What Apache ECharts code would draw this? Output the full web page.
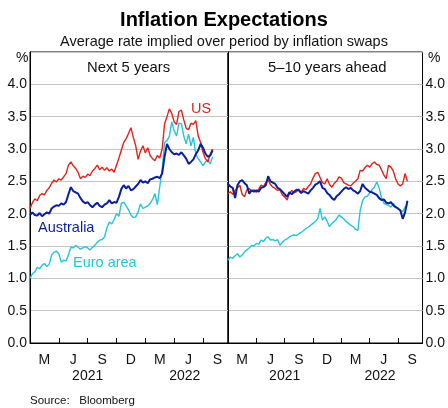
<!DOCTYPE html>
<html>
<head>
<meta charset="utf-8">
<script src="https://cdn.jsdelivr.net/npm/echarts@6/dist/echarts.min.js"></script>
<style>
  html, body { margin: 0; padding: 0; background: #fff; }
  #chart { width: 448px; height: 408px; }
</style>
</head>
<body>
<div id="chart"></div>
<script>
// x = months since 1 Jan 2021, one reading every quarter month (~weekly)
const step = 0.25

// 左：未来5年
const usNext5 = [2.08, 2.17, 2.23, 2.20, 2.28, 2.31, 2.29, 2.36, 2.40, 2.47, 2.52, 2.49, 2.54, 2.52, 2.57, 2.62,
  2.75, 2.80, 2.74, 2.70, 2.64, 2.54, 2.58, 2.56, 2.61, 2.59, 2.66, 2.70, 2.75, 2.68, 2.72, 2.67,
  2.71, 2.66, 2.69, 2.64, 2.75, 2.86, 2.98, 3.10, 3.16, 3.24, 3.33, 3.18, 3.05, 2.84, 2.97, 3.05,
  2.94, 3.02, 2.90, 2.85, 2.82, 2.90, 2.86, 3.00, 3.39, 3.50, 3.62, 3.55, 3.42, 3.38, 3.58, 3.60,
  3.45, 3.32, 3.30, 3.40, 3.38, 3.44, 3.20, 3.10, 2.95, 2.85, 2.80, 2.92, 3.00]
const ausNext5 = [1.98, 2.02, 1.98, 1.97, 2.01, 1.96, 1.99, 2.02, 2.00, 2.08, 2.11, 2.13, 2.12, 2.16, 2.14, 2.18,
  2.30, 2.41, 2.35, 2.33, 2.31, 2.24, 2.19, 2.16, 2.18, 2.13, 2.10, 2.14, 2.17, 2.12, 2.10, 2.14,
  2.16, 2.21, 2.16, 2.18, 2.17, 2.26, 2.38, 2.44, 2.39, 2.43, 2.36, 2.38, 2.42, 2.46, 2.52, 2.48,
  2.50, 2.47, 2.53, 2.54, 2.56, 2.57, 2.55, 2.62, 2.88, 3.08, 3.00, 2.95, 2.92, 2.93, 2.91, 2.95,
  2.90, 2.85, 2.77, 2.80, 2.84, 2.92, 2.98, 3.08, 3.02, 2.93, 2.88, 2.90, 2.98]
const euroNext5 = [1.00, 1.07, 1.10, 1.17, 1.15, 1.20, 1.23, 1.18, 1.22, 1.36, 1.40, 1.42, 1.38, 1.25, 1.28, 1.27,
  1.36, 1.48, 1.47, 1.51, 1.48, 1.45, 1.47, 1.49, 1.47, 1.44, 1.48, 1.51, 1.56, 1.59, 1.60, 1.64,
  1.78, 1.87, 1.84, 1.91, 2.00, 1.96, 2.16, 2.18, 2.12, 2.06, 1.98, 1.94, 1.95, 2.03, 2.15, 2.08,
  2.10, 2.12, 2.16, 2.22, 2.31, 2.14, 2.42, 2.68, 3.10, 3.13, 3.20, 3.42, 3.28, 3.20, 3.40, 3.39,
  3.20, 3.08, 3.23, 3.05, 3.18, 2.92, 2.85, 2.80, 2.74, 2.80, 2.83, 2.77, 2.88]

// 右：5–10年后
const us5to10 = [2.31, 2.34, 2.30, 2.36, 2.40, 2.44, 2.30, 2.26, 2.37, 2.39, 2.35, 2.37, 2.33, 2.38, 2.44, 2.42,
  2.48, 2.52, 2.45, 2.41, 2.39, 2.36, 2.37, 2.29, 2.26, 2.21, 2.31, 2.36, 2.32, 2.34, 2.38, 2.33,
  2.39, 2.37, 2.42, 2.46, 2.55, 2.62, 2.64, 2.56, 2.48, 2.46, 2.54, 2.45, 2.41, 2.47, 2.50, 2.57,
  2.55, 2.48, 2.46, 2.44, 2.43, 2.47, 2.50, 2.54, 2.67, 2.66, 2.71, 2.75, 2.72, 2.77, 2.80, 2.76,
  2.75, 2.68, 2.60, 2.54, 2.75, 2.72, 2.66, 2.54, 2.46, 2.43, 2.46, 2.62, 2.50]
const aus5to10 = [2.46, 2.42, 2.40, 2.24, 2.44, 2.50, 2.52, 2.47, 2.44, 2.31, 2.36, 2.34, 2.36, 2.34, 2.40, 2.41,
  2.44, 2.58, 2.50, 2.48, 2.46, 2.40, 2.38, 2.34, 2.30, 2.26, 2.33, 2.30, 2.34, 2.37, 2.36, 2.32,
  2.35, 2.33, 2.31, 2.36, 2.40, 2.45, 2.47, 2.50, 2.40, 2.38, 2.32, 2.29, 2.24, 2.21, 2.27, 2.30,
  2.34, 2.38, 2.41, 2.38, 2.40, 2.36, 2.34, 2.31, 2.35, 2.46, 2.40, 2.37, 2.34, 2.33, 2.31, 2.29,
  2.24, 2.21, 2.22, 2.17, 2.16, 2.18, 2.13, 2.10, 2.08, 2.05, 1.92, 2.02, 2.20]
const euro5to10 = [1.28, 1.33, 1.31, 1.35, 1.38, 1.33, 1.36, 1.41, 1.44, 1.47, 1.51, 1.50, 1.54, 1.53, 1.59, 1.57,
  1.62, 1.64, 1.59, 1.60, 1.58, 1.60, 1.51, 1.56, 1.59, 1.61, 1.64, 1.66, 1.67, 1.66, 1.69, 1.71,
  1.74, 1.77, 1.79, 1.82, 1.85, 1.88, 1.92, 2.08, 1.90, 1.95, 1.88, 1.80, 1.85, 1.88, 1.92, 1.98,
  1.95, 1.92, 1.88, 1.85, 1.82, 1.80, 1.76, 1.74, 2.05, 2.20, 2.26, 2.27, 2.32, 2.37, 2.41, 2.49,
  2.40, 2.25, 2.16, 2.14, 2.13, 2.10, 2.16, 2.11, 2.08, 2.05, 2.03, 2.10, 2.13]

// 坐标轴标签
const quarterLabels = ['M', 'J', 'S', 'D', 'M', 'J', 'S']
const quarterMid = [1.5, 4.5, 7.5, 10.5, 13.5, 16.5, 19.5]
const quarterEnds = [3, 6, 9, 12, 15, 18]
const yearLabels = ['2021', '2022']
const yearMid = [6, 16.1]
const yTicks = [0, 0.5, 1, 1.5, 2, 2.5, 3, 3.5, 4]

const RED = '#e2231c'
const BLUE = '#0a1f9c'
const CYAN = '#26c6d4'
const FONT = 'Liberation Sans, Arial, sans-serif'

const toPoints = (vals) => vals.map((v, i) => [i * step, v])

const xMain = (grid) => ({
  type: 'value', gridIndex: grid, min: 0, max: 20.6, position: 'bottom',
  axisLine: { show: true, onZero: false, lineStyle: { color: '#000', width: 1 } },
  axisTick: { show: true, inside: true, length: 5, customValues: quarterEnds, lineStyle: { color: '#000' } },
  axisLabel: {
    customValues: quarterMid, margin: 10, color: '#111', fontSize: 14, fontFamily: FONT,
    formatter: (v) => quarterLabels[quarterMid.indexOf(v)]
  },
  splitLine: { show: false }
})
const xYear = (grid) => ({
  type: 'value', gridIndex: grid, min: 0, max: 20.6, position: 'bottom', offset: 16,
  axisLine: { show: false }, axisTick: { show: false },
  axisLabel: {
    customValues: yearMid, margin: 10, color: '#111', fontSize: 14, fontFamily: FONT,
    formatter: (v) => yearLabels[yearMid.indexOf(v)]
  },
  splitLine: { show: false }
})
const yAxis = (grid, pos) => ({
  type: 'value', gridIndex: grid, min: 0, max: 4.5, interval: 0.5, position: pos,
  axisLine: { show: true, lineStyle: { color: '#000' } },
  axisTick: { show: false },
  axisLabel: {
    customValues: yTicks, margin: 3, color: '#111', fontSize: 14, fontFamily: FONT,
    formatter: (v) => v.toFixed(1)
  },
  splitLine: { show: true, lineStyle: { color: '#c4c4c4', width: 1 } }
})

const line = (name, data, color, xIdx, yIdx, width) => ({
  name, type: 'line', data: toPoints(data), xAxisIndex: xIdx, yAxisIndex: yIdx,
  showSymbol: false, symbol: 'none', lineStyle: { color, width }, itemStyle: { color },
  z: 3
})

const txt = (left, top, text, opts) => ({
  type: 'text', left, top,
  style: Object.assign({ text, fontFamily: FONT, fontSize: 14, fill: '#111' }, opts || {})
})

const option = {
  animation: false,
  backgroundColor: '#fff',
  grid: [
    { left: 30, top: 52, width: 198, height: 291, show: true, borderColor: '#000', borderWidth: 1 },
    { left: 228, top: 52, width: 197, height: 291, show: true, borderColor: '#000', borderWidth: 1 }
  ],
  xAxis: [xMain(0), xYear(0), xMain(1), xYear(1)],
  yAxis: [yAxis(0, 'left'), yAxis(1, 'right')],
  series: [
    line('Euro area', euroNext5, CYAN, 0, 0, 1.4),
    line('US', usNext5, RED, 0, 0, 1.4),
    line('Australia', ausNext5, BLUE, 0, 0, 2),
    line('Euro area', euro5to10, CYAN, 2, 1, 1.4),
    line('US', us5to10, RED, 2, 1, 1.4),
    line('Australia', aus5to10, BLUE, 2, 1, 2)
  ],
  graphic: [
    { type: 'text', left: 'center', top: 10, style: { text: 'Inflation Expectations', fontFamily: FONT, fontSize: 20, fontWeight: 'bold', fill: '#000' } },
    { type: 'text', left: 'center', top: 34, style: { text: 'Average rate implied over period by inflation swaps', fontFamily: FONT, fontSize: 14.5, fill: '#111' } },
    txt(16, 51, '%'),
    txt(428, 51, '%'),
    txt(87, 60, 'Next 5 years', { fontSize: 14.8 }),
    txt(268, 60, '5–10 years ahead', { fontSize: 14.8 }),
    txt(191, 101, 'US', { fontSize: 14.5, fill: RED }),
    txt(38, 220, 'Australia', { fontSize: 14.5, fill: BLUE }),
    txt(73, 255, 'Euro area', { fontSize: 14.5, fill: CYAN }),
    txt(30, 395, 'Source:   Bloomberg', { fontSize: 11.5 })
  ]
}

const chart = echarts.init(document.getElementById('chart'), null, { renderer: 'canvas' })
chart.setOption(option)
</script>
</body>
</html>
